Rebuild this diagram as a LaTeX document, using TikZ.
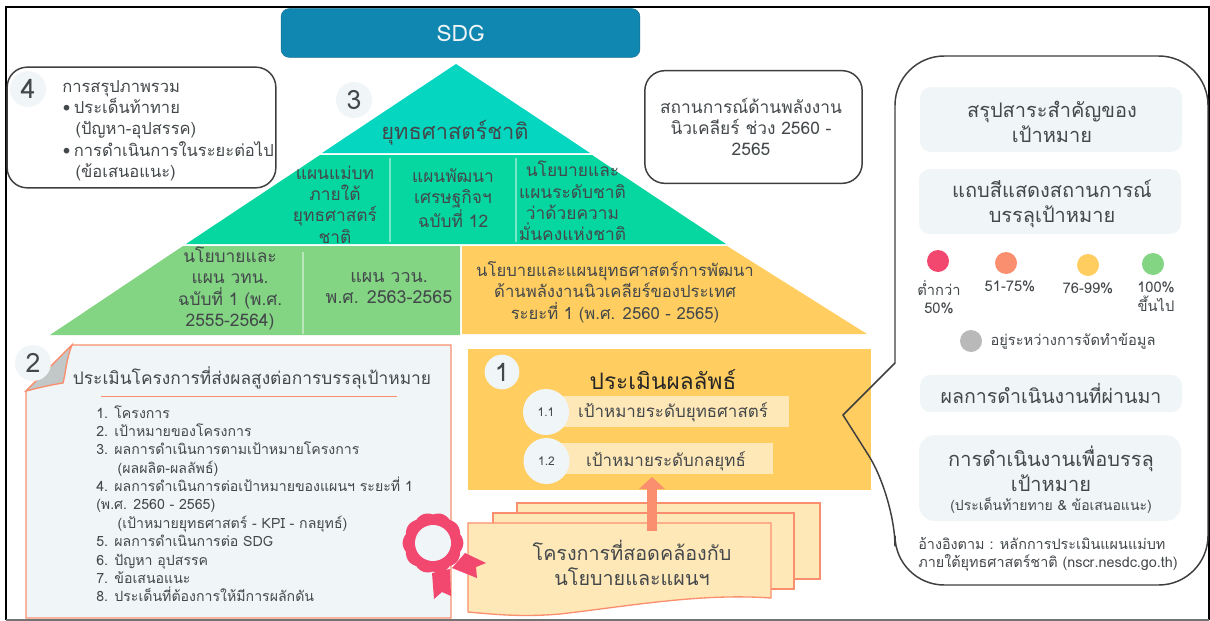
\documentclass[tikz,border=0pt]{standalone}
\usepackage{fontspec}
\setmainfont[Script=Thai]{Loma}
\usetikzlibrary{arrows.meta}
\definecolor{ink}{HTML}{43484B}
\definecolor{sdgblue}{HTML}{1087B0}
\definecolor{teal1}{HTML}{04D6C0}
\definecolor{teal2}{HTML}{06D6A0}
\definecolor{green1}{HTML}{83D483}
\definecolor{amber}{HTML}{FFCD60}
\definecolor{amberlt}{HTML}{FFE8B8}
\definecolor{salmon}{HTML}{F98F6E}
\definecolor{rose}{HTML}{F2476F}
\definecolor{pale}{HTML}{F0F5F8}
\definecolor{greyc}{HTML}{B9B9B9}
\definecolor{foldc}{HTML}{C2C7C7}
\definecolor{edge}{HTML}{3F3F3F}
\newcommand{\fs}[2]{\fontsize{#1}{#2}\selectfont}
\tikzset{
  lbl/.style={text=ink,align=center,inner sep=0pt},
  lft/.style={text=ink,align=left,inner sep=0pt},
  badge/.style={circle,fill=pale,text=ink,inner sep=0pt,minimum size=27pt},
  subbadge/.style={circle,fill=pale,text=ink,inner sep=0pt,minimum size=34.5pt},
  outline/.style={draw=edge,line width=1.1pt,fill=white,rounded corners=15pt},
  panel/.style={fill=pale,rounded corners=8pt},
  paper/.style={draw=salmon,line width=1pt,fill=amberlt},
  dot/.style={circle,inner sep=0pt,minimum size=16.5pt},
  bar/.style={fill=amberlt},
  divider/.style={draw=white,draw opacity=.45,line width=.8pt},
}
\begin{document}
\begin{tikzpicture}[x=0.75pt,y=-0.75pt]
\useasboundingbox (0,0) rectangle (1210,621);
\fill[white] (0,0) rectangle (1210,621);
% frame
\draw[black,line width=1.5pt] (6,620) -- (6,7) -- (1209,7) -- (1209,620);
\draw[black!55,line width=1pt] (6,620) -- (1209,620);
% SDG
\node[draw=sdgblue!85!black,line width=.4pt,fill=sdgblue,rounded corners=6pt,text=pale,minimum width=269pt,minimum height=36.5pt,inner sep=0pt,font=\fs{17}{20}] (sdg) at (460.5,33) {SDG};
% pyramid
\fill[teal1] (456,64) -- (590,153) -- (322,153) -- cycle;
\fill[teal2] (320,155) -- (592,155) -- (726,244) -- (186,244) -- cycle;
\fill[green1] (183,246) -- (460,246) -- (460,335) -- (50,335) -- cycle;
\fill[amber] (462,246) -- (727,246) -- (867,334) -- (462,334) -- cycle;
\draw[divider] (390,158) -- (390,242);
\draw[divider] (516,158) -- (516,242);
\draw[divider] (303,252) -- (303,334);
\node[lbl,font=\fs{16.4}{19}] (n3) at (455,133) {ยุทธศาสตร์ชาติ};
\node[lbl,font=\fs{13}{16}] (m1) at (335,204.5) {แผนแม่บท\\ภายใต้\\ยุทธศาสตร์\\ชาติ};
\node[lbl,font=\fs{13}{16}] (m2) at (453,198) {แผนพัฒนา\\เศรษฐกิจฯ\\ฉบับที่ 12};
\node[lbl,font=\fs{13}{16}] (m3) at (572.5,201) {นโยบายและ\\แผนระดับชาติ\\ว่าด้วยความ\\มั่นคงแห่งชาติ};
\node[lbl,font=\fs{13}{16}] (b1) at (230,288.5) {นโยบายและ\\แผน วทน.\\ฉบับที่ 1 (พ.ศ.\\2555-2564)};
\node[lbl,font=\fs{13.4}{16}] (b2) at (389,288) {แผน ววน.\\พ.ศ. 2563-2565};
\node[lbl,font=\fs{12.5}{16}] (b3) at (615,292) {นโยบายและแผนยุทธศาสตร์การพัฒนา\\ด้านพลังงานนิวเคลียร์ของประเทศ\\ระยะที่ 1 (พ.ศ. 2560 - 2565)};
\node[badge,font=\fs{20}{24}] (c3) at (354,100) {3};
% box 4
\node[outline,minimum width=201.5pt,minimum height=90.5pt] (box4) at (141.5,127.5) {};
\node[lft,font=\fs{12.4}{16},anchor=north west] (t4) at (62,80) {การสรุปภาพรวม\\\hspace*{.5pt}•\hspace{2.5pt}ประเด็นท้าทาย\\\hspace*{10pt}(ปัญหา-อุปสรรค)\\\hspace*{.5pt}•\hspace{2.5pt}การดำเนินการในระยะต่อไป\\\hspace*{10pt}(ข้อเสนอแนะ)};
\node[badge,font=\fs{20}{24}] (c4) at (28,89) {4};
% situation box
\node[outline,minimum width=163pt,minimum height=84.5pt] (box5) at (753.5,127) {};
\node[lbl,font=\fs{13}{16}] (t5) at (751,127) {สถานการณ์ด้านพลังงาน\\นิวเคลียร์ ช่วง 2560 -\\2565};
% box 2
\draw[draw=salmon,line width=1pt,fill=pale] (72,345) -- (451,345) -- (451,618) -- (26,618) -- (26,391) -- cycle;
\draw[draw=salmon,line width=1pt,fill=foldc] (72,345) .. controls (66,360) and (66,372) .. (63,383) .. controls (50,385) and (38,388) .. (26,391) -- cycle;
\node[badge,font=\fs{20}{24}] (c2) at (33,363) {2};
\node[lbl,font=\fs{13}{16}] (t2) at (252,378) {ประเมินโครงการที่ส่งผลสูงต่อการบรรลุเป้าหมาย};
\coordinate (ruleL) at (101,396);
\coordinate (ruleR) at (397,396);
\draw[salmon,line width=.5pt] (ruleL) -- (ruleR);
\node[lft,font=\fs{10.6}{13.8},anchor=north west] (list) at (96,405) {1. โครงการ\\2. เป้าหมายของโครงการ\\3. ผลการดำเนินการตามเป้าหมายโครงการ\\\hspace*{16pt}(ผลผลิต-ผลลัพธ์)\\4. ผลการดำเนินการต่อเป้าหมายของแผนฯ ระยะที่ 1\\(พ.ศ. 2560 - 2565)\\\hspace*{16pt}(เป้าหมายยุทธศาสตร์ - KPI - กลยุทธ์)\\5. ผลการดำเนินการต่อ SDG\\6. ปัญหา อุปสรรค\\7. ข้อเสนอแนะ\\8. ประเด็นที่ต้องการให้มีการผลักดัน};
% box 1
\fill[amber] (468,349) rectangle (871,490);
\node[text=black!85,inner sep=0pt,font=\fs{17}{20}] (t1) at (663,380) {ประเมินผลลัพธ์};
\node[badge,font=\fs{19}{24},minimum size=26pt] (c1) at (502,372) {1};
\fill[bar] (555,396) rectangle (789,427);
\fill[bar] (555,443) rectangle (773,474);
\node[subbadge,font=\fs{9}{10}] (c11) at (546,412) {1.1};
\node[subbadge,font=\fs{9}{10}] (c12) at (546.5,461) {1.2};
\node[lbl,font=\fs{12.7}{15}] (t11) at (673,412) {เป้าหมายระดับยุทธศาสตร์};
\node[lbl,font=\fs{12.7}{15}] (t12) at (666,461) {เป้าหมายระดับกลยุทธ์};
% papers
\draw[paper] (517,503) rectangle (820,579);
\draw[paper] (493,513) rectangle (794,589);
\draw[paper] (468,523) -- (771,523) -- (771,598) .. controls (700,593) and (630,606) .. (560,614) .. controls (525,617) and (500,615) .. (468,612) -- cycle;
\node[lbl,font=\fs{14.8}{18.8}] (tp) at (632,563) {โครงการที่สอดคล้องกับ\\นโยบายและแผนฯ};
\coordinate (arrS) at (652,531);
\coordinate (arrE) at (652,477);
\draw[salmon,line width=8pt,-{Triangle[width=19pt,length=9pt]}] (arrS) -- (arrE);
% ribbon
\fill[rose] (432,573) -- (450,569) -- (451,596) -- (442,592) -- (434,599) -- cycle;
\fill[rose] (452,568) -- (465,553) -- (486,563) -- (476,567) -- (477,578) -- cycle;
\coordinate (ribbonC) at (433,543);
\fill[rose] plot[shift={(ribbonC)},domain=0:360,samples=181] (\x:{28.5+1.8*abs(cos(5*\x))}) -- cycle;
\node[circle,fill=pale,minimum size=27pt,inner sep=0pt] (medal) at (ribbonC) {};
% callout
\draw[edge,line width=1.1pt] (895,363) [rounded corners=37pt] -- (895,56) -- (1208,56) -- (1208,585) -- (895,585) -- (895,497) [sharp corners] -- (843,415) -- cycle;
\node[panel,minimum width=196.5pt,minimum height=48.5pt] (p1) at (1051,119.5) {};
\node[lbl,font=\fs{15}{18.6}] at (1052,122) (tp1) {สรุปสาระสำคัญของ\\เป้าหมาย};
\node[panel,minimum width=196.5pt,minimum height=48.5pt] (p2) at (1050,201.5) {};
\node[lbl,font=\fs{15}{18.6}] at (1052,204) (tp2) {แถบสีแสดงสถานการณ์\\บรรลุเป้าหมาย};
\node[dot,fill=rose] (d1) at (938,261) {};
\node[dot,fill=salmon] (d2) at (1006,263) {};
\node[dot,fill=amber] (d3) at (1088,265) {};
\node[dot,fill=green1] (d4) at (1153,264) {};
\node[dot,fill=greyc] (d5) at (971,341) {};
\node[lbl,font=\fs{11}{14}] (l1) at (939,297) {ต่ำกว่า\\50\%};
\node[lbl,font=\fs{11}{14}] (l2) at (1010,286) {51-75\%};
\node[lbl,font=\fs{11}{14}] (l3) at (1088,288) {76-99\%};
\node[lbl,font=\fs{11}{14}] (l4) at (1156,297) {100\%\\ขึ้นไป};
\node[lbl,font=\fs{11}{14}] (l5) at (1073,341) {อยู่ระหว่างการจัดทำข้อมูล};
\node[panel,minimum width=196.5pt,minimum height=28pt] (p3) at (1051,393.5) {};
\node[lbl,font=\fs{14.7}{18.6}] (tp3) at (1051,393.5) {ผลการดำเนินงานที่ผ่านมา};
\node[panel,minimum width=196.5pt,minimum height=64.5pt,rounded corners=12pt] (p4) at (1050,478) {};
\node[lbl,font=\fs{15}{18.6}] (tp4) at (1051,469) {การดำเนินงานเพื่อบรรลุ\\เป้าหมาย};
\node[lbl,font=\fs{10.5}{14}] (tp5) at (1051,505) {(ประเด็นท้ายทาย \& ข้อเสนอแนะ)};
\node[lft,font=\fs{10.8}{14},anchor=north west] (ref) at (918,537) {อ้างอิงตาม : หลักการประเมินแผนแม่บท\\ภายใต้ยุทธศาสตร์ชาติ (nscr.nesdc.go.th)};
\end{tikzpicture}
\end{document}
